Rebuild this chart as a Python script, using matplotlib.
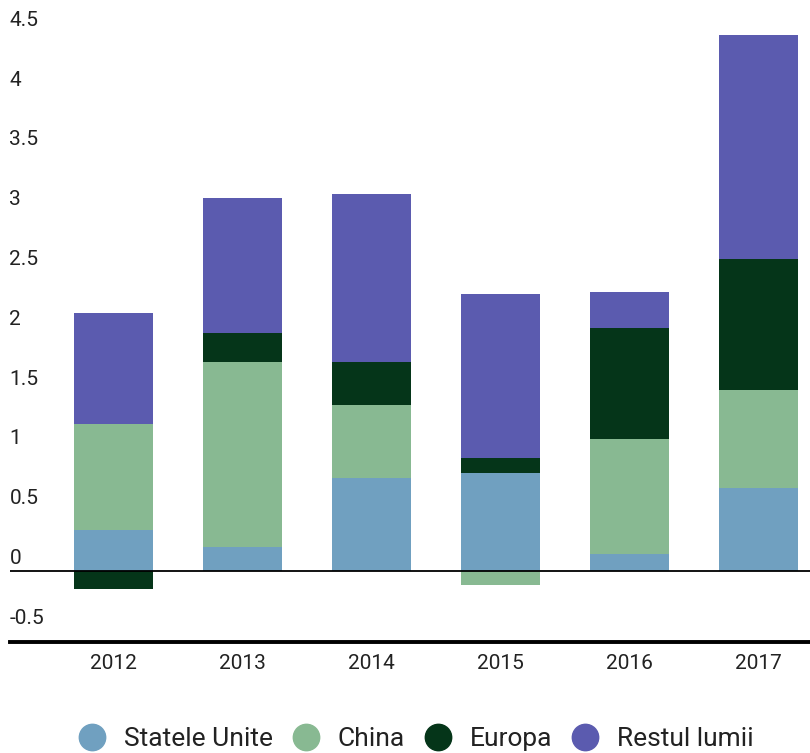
import matplotlib as mpl

mpl.use('Agg')
import matplotlib.pyplot as plt
import matplotlib.transforms as mtransforms
from matplotlib.lines import Line2D
import numpy as np

plt.rcParams['font.family'] = ['Roboto', 'DejaVu Sans']

years = ["2012", "2013", "2014", "2015", "2016", "2017"]
statele_unite = [0.34, 0.20, 0.78, 0.82, 0.14, 0.69]
china = [0.885, 1.55, 0.605, -0.12, 0.96, 0.82]
europa = [-0.15, 0.24, 0.365, 0.125, 0.93, 1.10]
restul_lumii = [0.93, 1.13, 1.40, 1.37, 0.30, 1.87]

series = [
    ("Statele Unite", statele_unite, "#70a0c0"),
    ("China", china, "#88b992"),
    ("Europa", europa, "#053519"),
    ("Restul lumii", restul_lumii, "#5b5baf"),
]
yticks = [-0.5, 0, 0.5, 1, 1.5, 2, 2.5, 3, 3.5, 4, 4.5]

fig = plt.figure(figsize=(8.1, 7.53), dpi=100)
ax = fig.add_axes([9.5 / 810, 111.5 / 753, 1 - 9.5 / 810, 641.5 / 753])

x = np.arange(len(years))
pos_bottom = np.zeros(len(years))
neg_bottom = np.zeros(len(years))
for name, vals, col in series:
    vals = np.array(vals)
    bottoms = np.where(vals >= 0, pos_bottom, neg_bottom)
    ax.bar(x, vals, width=0.61, bottom=bottoms, color=col, linewidth=0, zorder=2)
    pos_bottom = pos_bottom + np.where(vals >= 0, vals, 0)
    neg_bottom = neg_bottom + np.where(vals < 0, vals, 0)

ax.set_xlim(-0.806, 5.4)
ax.set_ylim(-0.59, 4.774)
ax.axhline(0, color="black", lw=1.3, zorder=3)

for s in ["top", "right", "left"]:
    ax.spines[s].set_visible(False)
ax.spines["bottom"].set_linewidth(2.8)
ax.spines["bottom"].set_color("black")

ax.set_yticks([])
ax.set_xticks(x)
ax.set_xticklabels(years, fontsize=15, color="#222222")
ax.tick_params(axis="x", length=0, pad=9)

# y labels sit just above their value, inside the plot area
trans = mtransforms.blended_transform_factory(ax.transAxes, ax.transData)
trans = mtransforms.offset_copy(trans, fig=fig, x=0, y=3, units="dots")
for t in yticks:
    lab = f"{t:g}"
    ax.text(0, t, lab, transform=trans, ha="left", va="bottom",
            fontsize=15, color="#222222")

handles = [Line2D([], [], marker="o", linestyle="", markersize=19,
                  markerfacecolor=col, markeredgecolor=col)
           for name, vals, col in series]
labels = [name for name, vals, col in series]
fig.legend(handles, labels, loc="center", bbox_to_anchor=(0.514, 0.018),
           ncol=4, frameon=False, fontsize=19, handlelength=1.0,
           handletextpad=0.7, columnspacing=0.75, labelcolor="#222222")

fig.savefig("out.png", dpi=100)
